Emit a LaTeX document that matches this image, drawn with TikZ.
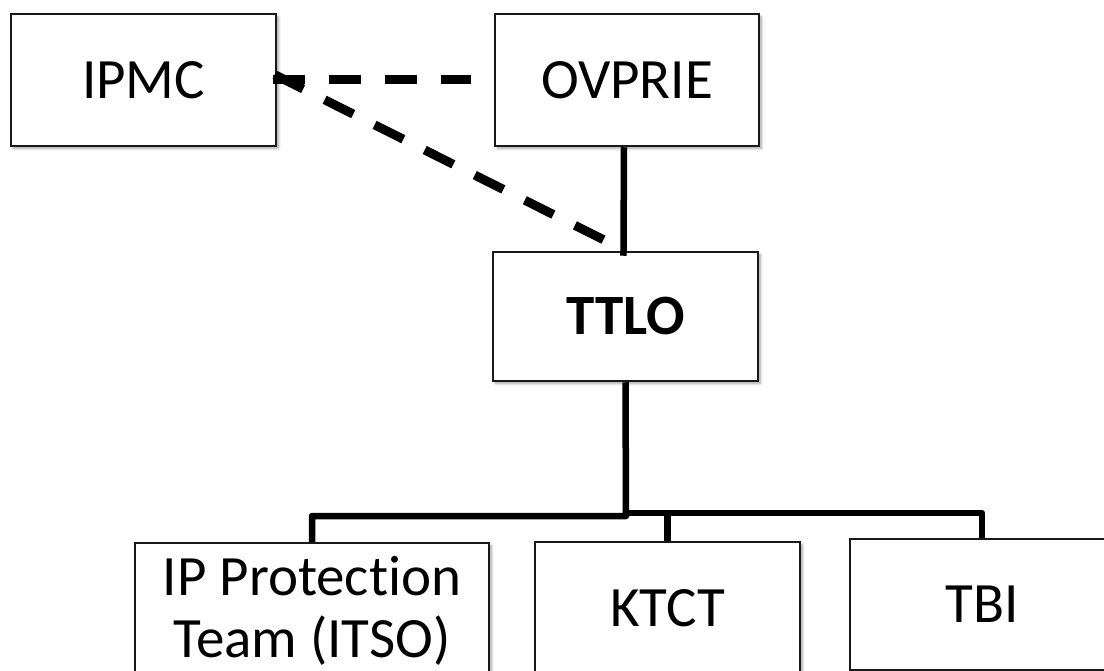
\documentclass[tikz,border=0pt]{standalone}
\usepackage{fontspec}
\setmainfont{Carlito}[Ligatures=NoCommon]
\usetikzlibrary{shadows.blur}
\begin{document}
\begin{tikzpicture}[x=1pt,y=-1pt,
  box/.style={draw=black!90, line width=2.5pt, fill=white, rectangle, inner sep=0pt,
    align=center, font=\fontsize{57}{62}\selectfont,
    blur shadow={shadow xshift=2.5pt, shadow yshift=-2.5pt, shadow blur steps=6, shadow opacity=35, shadow blur radius=2.5pt}},
  dashline/.style={line width=9pt, dash pattern=on 32pt off 24pt},
  tree/.style={line width=6.5pt, line join=round}]
\useasboundingbox (0,0) rectangle (1104,671);
\clip (0,0) rectangle (1104,671);
\node[box, minimum width=265pt, minimum height=132pt] (ipmc) at (143.5,80) {IPMC};
\node[box, minimum width=264pt, minimum height=132pt] (ovprie) at (627,80) {OVPRIE};
\node[box, minimum width=265pt, minimum height=129pt] (ttlo) at (625.5,316.5) {\bfseries TTLO};
\node[box, minimum width=354pt, minimum height=136pt] (ipt) at (312,611) {IP Protect\kern0pt ion\\Team (ITSO)};
\node[box, minimum width=265pt, minimum height=132pt] (ktct) at (667.5,608) {KTCT};
\node[box, minimum width=264pt, minimum height=131pt] (tbi) at (982,604.5) {TBI};
% dashed links
\draw[dashline, shorten >=23pt, shorten <=-4pt] (ipmc.east) -- (ovprie.west);
\draw[dashline, shorten >=20pt, shorten <=-3pt] ([yshift=4pt]ipmc.east) -- (ttlo.north);
% solid links
\draw[tree, shorten >=-5pt] ([xshift=-3pt]ovprie.south) -- ([xshift=-2pt]ttlo.north);
\coordinate (busL) at (626,516);
\coordinate (busR) at (626,513);
\draw[tree] (ttlo.south) -- (busL) -| (ipt.north);
\draw[tree] (busR) -| (ktct.north);
\draw[tree] (busR) -| (tbi.north);
\end{tikzpicture}
\end{document}
